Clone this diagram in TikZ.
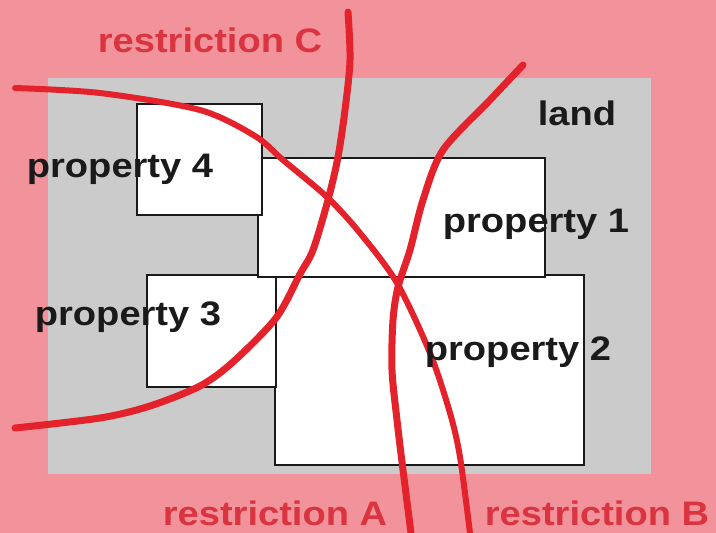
\documentclass[tikz,border=0pt]{standalone}
\usepackage{fontspec}
\setmainfont{Liberation Sans}
\usepackage{graphicx}
\definecolor{bgpink}{HTML}{F2939C}
\definecolor{landgray}{HTML}{CBCBCB}
\definecolor{curvered}{HTML}{E3222B}
\definecolor{labelred}{HTML}{D9343F}
\definecolor{inkblack}{HTML}{1A1A1A}
\newcommand{\widetext}[1]{\scalebox{1.12}[1]{#1}}
\tikzset{
  propbox/.style={fill=white, draw=inkblack, line width=2.2pt},
  restrictline/.style={draw=curvered, line width=7pt, line cap=round, line join=round},
  lbl/.style={inner sep=0pt, anchor=base, font=\fontsize{34}{40}\selectfont\bfseries},
  proplabel/.style={lbl, text=inkblack},
  restrictlabel/.style={lbl, text=labelred}
}
\begin{document}
\begin{tikzpicture}[x=1pt,y=-1pt]
\useasboundingbox (0,0) rectangle (716,533);
\fill[bgpink] (0,0) rectangle (716,533);
\fill[landgray] (48,78) rectangle (651,474);
% properties (drawing order: 2, 3, 1, 4)
\filldraw[propbox] (275,275) rectangle (584,465);
\filldraw[propbox] (147,275) rectangle (276,387);
\filldraw[propbox] (258,158) rectangle (545,277);
\filldraw[propbox] (137,104) rectangle (262,215);
% restriction curves
\draw[restrictline, line width=6pt] plot[smooth, tension=0.5] coordinates {(15,88) (100,93) (200,110) (255,136) (283,160) (327,197) (360,233) (397,283) (430,353) (450,413) (460,457) (470,533)};
\draw[restrictline] plot[smooth, tension=0.5] coordinates {(348,12) (350,60) (345,110) (338,157) (328,200) (313,250) (300,274) (276,318) (233,362) (200,386) (150,406) (100,418) (15,428)};
\draw[restrictline] plot[smooth, tension=0.5] coordinates {(523,65) (490,100) (443,150) (423,200) (410,250) (398,287) (393,320) (392,370) (397,420) (403,470) (411,533)};
% labels
\node[restrictlabel] (rC) at (210,52) {\widetext{restriction C}};
\node[proplabel] (land) at (577,125) {\widetext{land}};
\node[proplabel] (p4) at (120,177) {\widetext{property 4}};
\node[proplabel] (p1) at (536,232) {\widetext{property 1}};
\node[proplabel] (p3) at (128,325) {\widetext{property 3}};
\node[proplabel] (p2) at (518,360) {\widetext{property 2}};
\node[restrictlabel] (rA) at (275,525) {\widetext{restriction A}};
\node[restrictlabel] (rB) at (597,525) {\widetext{restriction B}};
\end{tikzpicture}
\end{document}
